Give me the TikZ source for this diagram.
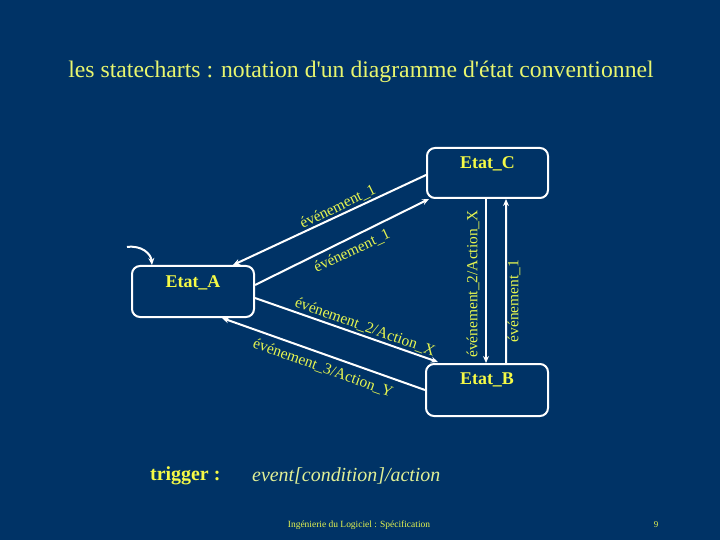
\documentclass[tikz,border=0pt]{standalone}
\usepackage{fontspec}
\setmainfont{Liberation Serif}[Ligatures=TeXOff]
\usetikzlibrary{calc,arrows.meta}
\definecolor{bg}{RGB}{0,51,102}
\definecolor{ttl}{RGB}{232,245,110}
\definecolor{lab}{RGB}{245,250,70}
\definecolor{lbl}{RGB}{230,245,80}
\definecolor{evt}{RGB}{225,240,150}
\tikzset{
  state/.style={draw=white, line width=2bp, rounded corners=8bp, inner sep=0pt},
  statename/.style={text=lab, font=\fontsize{18}{20}\selectfont\bfseries, inner sep=0pt},
  trans/.style={draw=white, line width=2bp, -{Stealth[length=7bp,width=6bp]}},
  tlabel/.style={text=lbl, font=\fontsize{15.5}{17}\selectfont, inner sep=0pt},
}
\begin{document}
\begin{tikzpicture}[x=1bp,y=-1bp]
\fill[bg] (0,0) rectangle (720,540);
\useasboundingbox (0,0) rectangle (720,540);
\node[text=ttl, font=\fontsize{23.8}{28}\selectfont] (title) at (361,72) {les statecharts : notation d'un diagramme d'état conventionnel};
% states
\node[state, minimum width=122bp, minimum height=51bp] (A) at (193,291.5) {};
\node[statename] (An) at ($(A.north)+(0,18)$) {Etat\_A};
\node[state, minimum width=121bp, minimum height=50bp] (C) at (487.5,173) {};
\node[statename] (Cn) at ($(C.north)+(0,17)$) {Etat\_C};
\node[state, minimum width=122bp, minimum height=52bp] (B) at (487,390) {};
\node[statename] (Bn) at ($(B.north)+(0,17)$) {Etat\_B};
% initial
\coordinate (init) at (127,247);
\draw[trans] (init) .. controls (142,245) and (151,254) .. ($(A.north west)+(21,0)$);
% transitions
\draw[trans] ($(C.west)+(0,2)$) -- ($(A.north)+(40,0)$);
\draw[trans] ($(A.east)+(0,-6.5)$) -- ($(C.south west)+(3,0)$);
\draw[trans] ($(A.east)+(0,6.5)$) -- ($(B.north west)+(13,-1)$);
\draw[trans] (B.west) -- ($(A.south)+(29,0)$);
\draw[trans] ($(C.south)+(-1.5,0)$) -- ($(B.north)+(-1,0)$);
\draw[trans] ($(B.north)+(19,0)$) -- ($(C.south)+(18.5,0)$);
% labels
\node[tlabel, rotate=26] (l1) at (338,207) {événement\_1};
\node[tlabel, rotate=25] (l2) at (352,251) {événement\_1};
\node[tlabel, rotate=-19.5] (l3) at (365,327) {événement\_2/Action\_X};
\node[tlabel, rotate=-19.8] (l4) at (323,368) {événement\_3/Action\_Y};
\node[tlabel, rotate=90] (l5) at (473,284) {événement\_2/Action\_X};
\node[tlabel, rotate=90] (l6) at (514,301) {événement\_1};
% trigger
\node[text=lab, font=\fontsize{20}{24}\selectfont\bfseries, anchor=west, inner sep=0pt] (trig) at (150,476) {trigger :};
\node[text=evt, font=\fontsize{20}{24}\selectfont\itshape, anchor=west, inner sep=0pt] (evt) at (252,476) {event[condition]/action};
% footer
\node[text=lbl, font=\fontsize{9.5}{11}\selectfont, inner sep=0pt] (foot) at (359,525) {Ingénierie du Logiciel : Spécification};
\node[text=lbl, font=\fontsize{9}{11}\selectfont, inner sep=0pt] (page) at (656,525) {9};
\end{tikzpicture}
\end{document}
